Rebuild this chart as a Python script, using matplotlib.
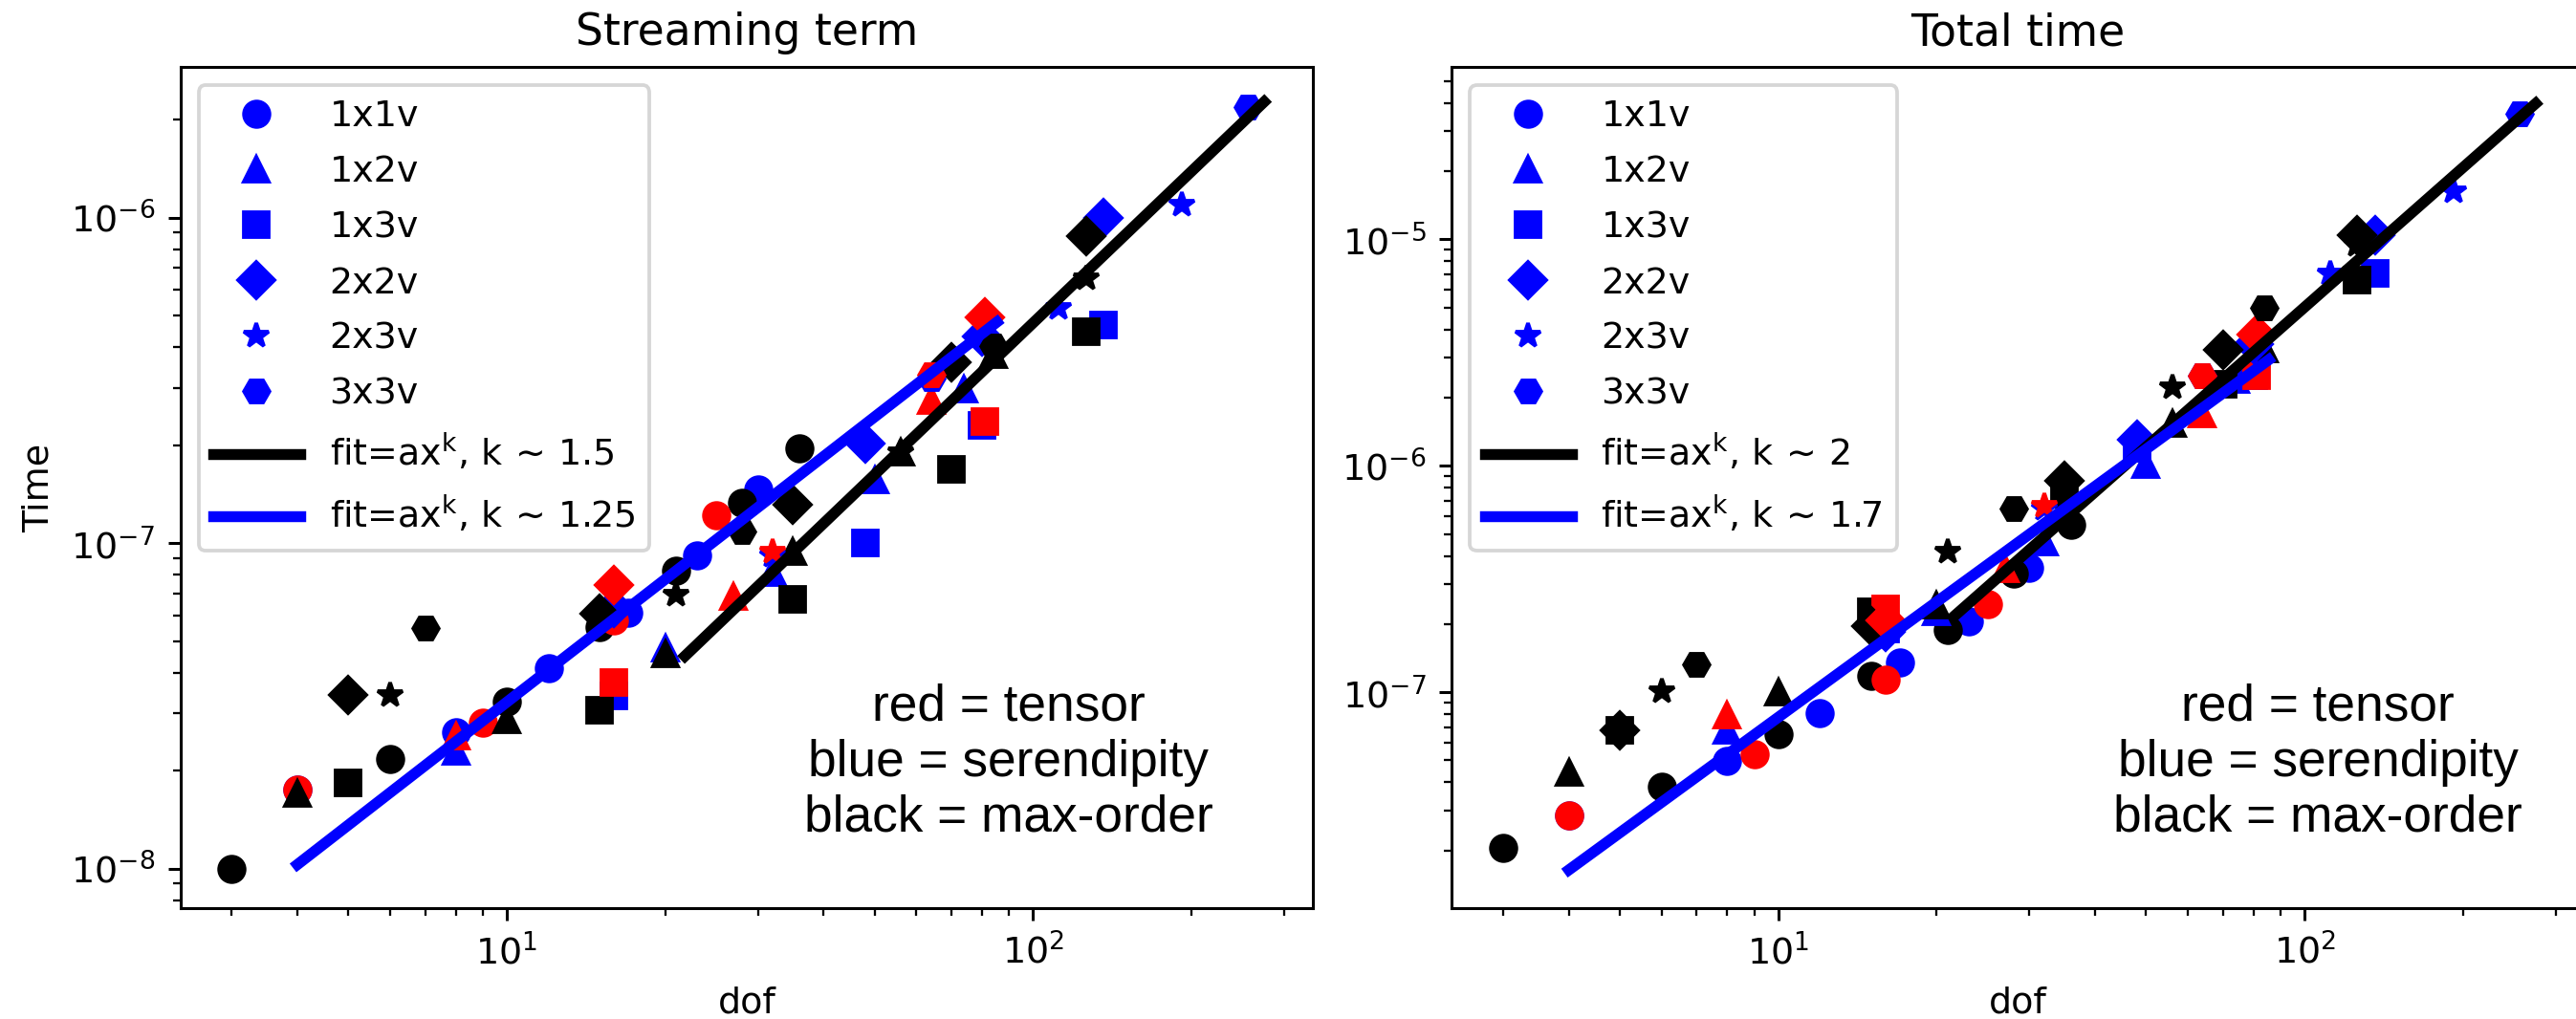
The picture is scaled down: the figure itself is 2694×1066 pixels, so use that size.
import matplotlib
matplotlib.use('Agg')
import matplotlib.pyplot as plt

# ---------------- data ----------------
dims = ['1x1v', '1x2v', '1x3v', '2x2v', '2x3v', '3x3v']
marker_of = ['o', '^', 's', 'D', '*', 'H']

# number of degrees of freedom per basis family
dof_ser = {'1x1v': [4, 8, 12, 17, 23, 30], '1x2v': [8, 20, 32, 50, 74],
           '1x3v': [16, 48, 80, 136], '2x2v': [16, 48, 80, 136],
           '2x3v': [32, 112, 192], '3x3v': [64, 256]}
dof_mo = {'1x1v': [3, 6, 10, 15, 21, 28, 36], '1x2v': [4, 10, 20, 35, 56, 84],
          '1x3v': [5, 15, 35, 70, 126], '2x2v': [5, 15, 35, 70, 126],
          '2x3v': [6, 21, 56, 126], '3x3v': [7, 28, 84]}
dof_ten = {'1x1v': [4, 9, 16, 25], '1x2v': [8, 27, 64], '1x3v': [16, 81],
           '2x2v': [16, 81], '2x3v': [32], '3x3v': [64]}

# streaming term timings
stream_ser = {'1x1v': [1.75e-8, 2.62e-8, 4.13e-8, 6.13e-8, 9.2e-8, 1.46e-7],
              '1x2v': [2.3e-8, 4.75e-8, 8.1e-8, 1.56e-7, 2.98e-7],
              '1x3v': [3.4e-8, 1.0e-7, 2.3e-7, 4.68e-7],
              '2x2v': [6.34e-8, 2.03e-7, 4.31e-7, 1.0e-6],
              '2x3v': [9.2e-8, 5.3e-7, 1.1e-6],
              '3x3v': [3.2e-7, 2.19e-6]}
stream_mo = {'1x1v': [1.0e-8, 2.18e-8, 3.26e-8, 5.53e-8, 8.22e-8, 1.33e-7, 1.96e-7],
             '1x2v': [1.7e-8, 2.87e-8, 4.57e-8, 9.4e-8, 1.9e-7, 3.8e-7],
             '1x3v': [1.84e-8, 3.06e-8, 6.7e-8, 1.69e-7, 4.47e-7],
             '2x2v': [3.43e-8, 6.06e-8, 1.31e-7, 3.6e-7, 8.8e-7],
             '2x3v': [3.43e-8, 6.97e-8, 1.91e-7, 6.5e-7],
             '3x3v': [5.5e-8, 1.09e-7, 4.04e-7]}
stream_ten = {'1x1v': [1.75e-8, 2.81e-8, 5.8e-8, 1.22e-7],
              '1x2v': [2.55e-8, 6.86e-8, 2.75e-7],
              '1x3v': [3.73e-8, 2.37e-7],
              '2x2v': [7.42e-8, 4.94e-7],
              '2x3v': [9.4e-8],
              '3x3v': [3.3e-7]}

# total time timings
total_ser = {'1x1v': [2.86e-8, 4.97e-8, 8.1e-8, 1.35e-7, 2.05e-7, 3.56e-7],
             '1x2v': [6.8e-8, 2.26e-7, 4.61e-7, 1.01e-6, 2.4e-6],
             '1x3v': [1.9e-7, 1.2e-6, 2.5e-6, 7.05e-6],
             '2x2v': [1.85e-7, 1.31e-6, 3.46e-6, 1.04e-5],
             '2x3v': [6.5e-7, 7.05e-6, 1.64e-5],
             '3x3v': [2.5e-6, 3.58e-5]}
total_mo = {'1x1v': [2.06e-8, 3.81e-8, 6.5e-8, 1.18e-7, 1.89e-7, 3.33e-7, 5.51e-7],
            '1x2v': [4.41e-8, 1.0e-7, 2.42e-7, 7.5e-7, 1.54e-6, 3.3e-6],
            '1x3v': [6.78e-8, 2.26e-7, 7.7e-7, 2.3e-6, 6.61e-6],
            '2x2v': [6.78e-8, 1.95e-7, 8.6e-7, 3.24e-6, 1.04e-5],
            '2x3v': [1.01e-7, 4.19e-7, 2.23e-6, 9.5e-6],
            '3x3v': [1.33e-7, 6.46e-7, 5.01e-6]}
total_ten = {'1x1v': [2.86e-8, 5.3e-8, 1.14e-7, 2.45e-7],
             '1x2v': [7.9e-8, 3.5e-7, 1.69e-6],
             '1x3v': [2.33e-7, 2.5e-6],
             '2x2v': [2.08e-7, 3.81e-6],
             '2x3v': [6.64e-7],
             '3x3v': [2.5e-6]}

# power-law fit lines (end points)
stream_fit_mo_x = [21.8, 275]
stream_fit_mo_y = [4.5e-8, 2.27e-6]
stream_fit_ser_x = [4, 85.4]
stream_fit_ser_y = [1.03e-8, 4.78e-7]
total_fit_mo_x = [21.7, 275]
total_fit_mo_y = [2.19e-7, 3.99e-5]
total_fit_ser_x = [4, 85.5]
total_fit_ser_y = [1.64e-8, 2.94e-6]

titles = ['Streaming term', 'Total time']
fit_labels = [[r'fit=ax$^{\mathrm{k}}$, k$\,\sim\,$1.5', r'fit=ax$^{\mathrm{k}}$, k$\,\sim\,$1.25'],
              [r'fit=ax$^{\mathrm{k}}$, k$\,\sim\,$2', r'fit=ax$^{\mathrm{k}}$, k$\,\sim\,$1.7']]
note = 'red = tensor\nblue = serendipity\nblack = max-order'

# ---------------- figure ----------------
DPI = 274
fig = plt.figure(figsize=(2694 / DPI, 1066 / DPI), dpi=DPI)
plt.rcParams['font.size'] = 10

ax1 = fig.add_axes([0.0700, 0.1088, 0.4397, 0.8255])
ax2 = fig.add_axes([0.5636, 0.1088, 0.4397, 0.8255])

panels = [
    (ax1, stream_ser, stream_mo, stream_ten,
     (stream_fit_mo_x, stream_fit_mo_y), (stream_fit_ser_x, stream_fit_ser_y),
     (10 ** -8.121, 10 ** -5.537), 0.731),
    (ax2, total_ser, total_mo, total_ten,
     (total_fit_mo_x, total_fit_mo_y), (total_fit_ser_x, total_fit_ser_y),
     (10 ** -7.954, 10 ** -4.238), 0.7646),
]

ms = 7
for i, (ax, tser, tmo, tten, fmo, fser, ylim, notex) in enumerate(panels):
    for d, mk in zip(dims, marker_of):
        ax.plot(dof_ser[d], tser[d], linestyle='none', marker=mk, ms=ms,
                color='#0000ff', label=d)
        ax.plot(dof_mo[d], tmo[d], linestyle='none', marker=mk, ms=ms,
                color='black')
        ax.plot(dof_ten[d], tten[d], linestyle='none', marker=mk, ms=ms,
                color='#ff0000')
    ax.plot(fmo[0], fmo[1], color='black', lw=3, label=fit_labels[i][0])
    ax.plot(fser[0], fser[1], color='#0000ff', lw=3, label=fit_labels[i][1])
    ax.set_xscale('log')
    ax.set_yscale('log')
    ax.set_xlim(2.397, 340.4)
    ax.set_ylim(*ylim)
    ax.set_title(titles[i], fontsize=12)
    ax.set_xlabel('dof', fontsize=10)
    ax.legend(loc='upper left', fontsize=10, handlelength=2.4, numpoints=1,
              labelspacing=0.58)
    ax.text(notex, 0.173, note, transform=ax.transAxes, ha='center',
            va='center', multialignment='center', fontsize=14,
            family=['Liberation Sans', 'DejaVu Sans'])

ax1.set_ylabel('Time', fontsize=10)

fig.savefig('out.png', dpi=DPI)
